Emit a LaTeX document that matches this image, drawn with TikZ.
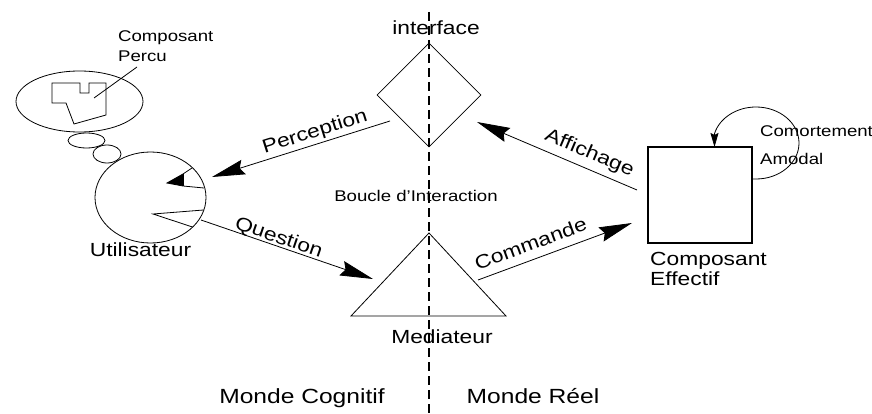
\documentclass[tikz,border=0pt]{standalone}
\usepackage{fontspec}
\setmainfont{Liberation Sans}[FakeStretch=1.2]
\usetikzlibrary{shapes.geometric,arrows.meta}

\tikzset{
  bigtext/.style={font=\fontsize{19}{22}\selectfont, inner sep=0pt, anchor=base},
  worldtext/.style={font=\fontsize{20.5}{24}\selectfont, inner sep=0pt, anchor=base},
  smalltext/.style={font=\fontsize{15.5}{18}\selectfont, inner sep=0pt, anchor=base west},
  thin/.style={line width=0.8pt},
  flow/.style={line width=0.8pt, -{Stealth[length=33pt,width=15pt,inset=4pt]}},
  loopflow/.style={line width=0.8pt, -{Stealth[length=14pt,width=8pt,inset=2pt]}},
  shape line/.style={draw, line width=0.8pt, inner sep=0pt},
  divider/.style={line width=1.3pt, dash pattern=on 9pt off 5pt}
}

\begin{document}
\begin{tikzpicture}[x=1pt,y=-1pt]
  \useasboundingbox[fill=white] (0,0) rectangle (872,414);

  % boundary between the two worlds
  \coordinate (divTop) at (429,12);
  \coordinate (divBot) at (429,414);
  \draw[divider] (divTop) -- (divBot);

  % interface (diamond)
  \node[shape line, diamond, aspect=1, minimum width=104pt, minimum height=104pt] (iface) at (429,95) {};
  \node[bigtext] (ifaceLbl) at (436,35) {interface};

  % mediator (triangle)
  \coordinate (medTop) at (429,233);
  \coordinate (medL) at (351,316);
  \coordinate (medR) at (506,316);
  \draw[thin, line join=miter] (medTop) -- (medL) -- (medR) -- cycle;
  \node[bigtext] (medLbl) at (442,343) {Mediateur};

  \node[smalltext, anchor=base] (loopLbl) at (416,201) {Boucle d'Interaction};

  % effective component (box) with its amodal behaviour loop
  \node[draw, line width=1.1pt, minimum width=104pt, minimum height=96pt, inner sep=0pt] (comp) at (700,195) {};
  \node[bigtext, anchor=base west] (compLbl1) at (650,265) {Composant};
  \node[bigtext, anchor=base west] (compLbl2) at (650,285) {Effectif};
  \coordinate (loopStart) at (752,179);
  \coordinate (loopEnd) at (714.5,147);
  \draw[loopflow] (loopStart) -- (756,179)
     arc[start angle=90, end angle=-165, x radius=43, y radius=36]
     -- (loopEnd);
  \node[smalltext] (behLbl1) at (760,137) {Comortement};
  \node[smalltext] (behLbl2) at (760,165) {Amodal};

  % user with thought bubbles
  \node[shape line, ellipse, minimum width=111pt, minimum height=91pt] (user) at (150.5,197.5) {};
  \node[bigtext] (userLbl) at (140.5,256) {Utilisateur};
  \draw[thin, line join=miter] (192,168) -- (183,174) -- (167,183) -- (183,186) -- (204,188);
  \fill (183,174) -- (167,183) -- (183,186) -- cycle;
  \draw[thin] (183,174) -- (183,186);
  \draw[thin, line join=miter] (203.5,210) -- (153,214) -- (192.5,227);

  \node[shape line, ellipse, minimum width=127pt, minimum height=61pt] (thought) at (79.5,101.5) {};
  \node[shape line, ellipse, minimum width=37pt, minimum height=15pt] (bubbleA) at (86.5,140.5) {};
  \node[shape line, ellipse, minimum width=28pt, minimum height=18pt] (bubbleB) at (107,154) {};
  \draw[thin, line join=miter] (52,83) -- (80,83) -- (80,93) -- (89,93) -- (89,83) -- (106,83)
     -- (106,115) -- (74,124) -- (66,103) -- (52,103) -- cycle;
  \coordinate (percuIn) at (94,98);
  \coordinate (percuOut) at (137,67);
  \draw[thin] (percuIn) -- (percuOut);
  \node[smalltext] (percuLbl1) at (118,42) {Composant};
  \node[smalltext] (percuLbl2) at (118,62) {Percu};

  % interaction loop connectors
  \coordinate (percFrom) at (390,121);
  \coordinate (percTo) at (212,177);
  \draw[flow] (percFrom) -- (percTo);
  \node[bigtext, rotate=17.5] (percLbl) at (316.5,137) {Perception};

  \coordinate (questFrom) at (201,220);
  \coordinate (questTo) at (373,279);
  \draw[flow] (questFrom) -- (questTo);
  \node[bigtext, rotate=-19] (questLbl) at (277,243) {Question};

  \coordinate (cmdFrom) at (478,280);
  \coordinate (cmdTo) at (632,223);
  \draw[flow] (cmdFrom) -- (cmdTo);
  \node[bigtext, rotate=20.3] (cmdLbl) at (533,250) {Commande};

  \coordinate (affFrom) at (637,190);
  \coordinate (affTo) at (477,122);
  \draw[flow] (affFrom) -- (affTo);
  \node[bigtext, rotate=-23] (affLbl) at (587.5,158) {Affichage};

  % the two worlds
  \node[worldtext] (cogLbl) at (302,403) {Monde Cognitif};
  \node[worldtext] (realLbl) at (533,403) {Monde Réel};
\end{tikzpicture}
\end{document}
